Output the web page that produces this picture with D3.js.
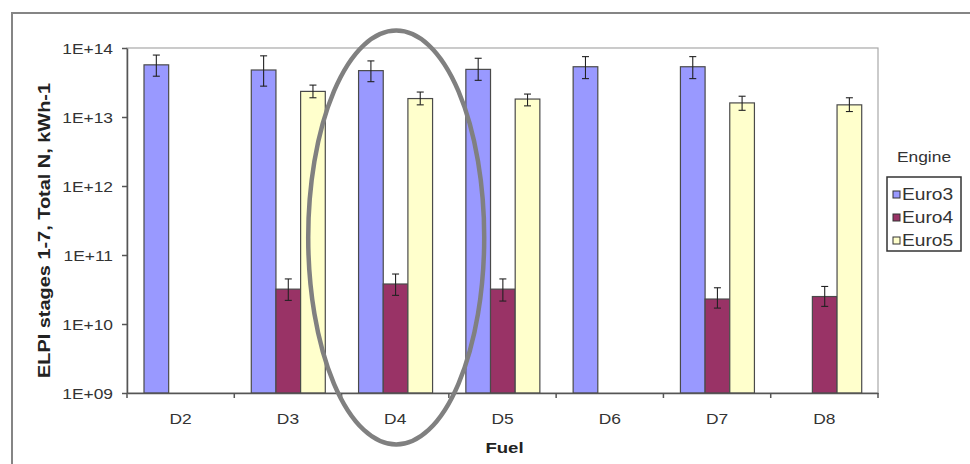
<!DOCTYPE html>
<html>
<head>
<meta charset="utf-8">
<script src="https://cdn.jsdelivr.net/npm/d3@7"></script>
<style>
  html, body { margin: 0; padding: 0; background: #fff; }
  svg { display: block; font-family: "Liberation Sans", Arial, sans-serif; }
</style>
</head>
<body>
<svg id="chart" width="970" height="464"></svg>
<script>
// ---- data ----
const categories = ["D2", "D3", "D4", "D5", "D6", "D7", "D8"];
const seriesNames = ["Euro3", "Euro4", "Euro5"];
const euro3 = [5.7e13, 4.8e13, 4.7e13, 4.9e13, 5.35e13, 5.35e13, null];
const euro4 = [null, 3.2e10, 3.8e10, 3.2e10, null, 2.3e10, 2.5e10];
const euro5 = [null, 2.35e13, 1.85e13, 1.82e13, null, 1.6e13, 1.5e13];
const euro3Hi = [7.9e13, 7.7e13, 6.5e13, 7.1e13, 7.5e13, 7.5e13, null];
const euro3Lo = [3.9e13, 2.8e13, 3.25e13, 3.4e13, 3.6e13, 3.6e13, null];
const euro4Hi = [null, 4.5e10, 5.3e10, 4.5e10, null, 3.35e10, 3.5e10];
const euro4Lo = [null, 2.2e10, 2.6e10, 2.15e10, null, 1.7e10, 1.8e10];
const euro5Hi = [null, 2.9e13, 2.3e13, 2.15e13, null, 2.0e13, 1.9e13];
const euro5Lo = [null, 1.9e13, 1.5e13, 1.45e13, null, 1.25e13, 1.2e13];
const yTickValues = [1e9, 1e10, 1e11, 1e12, 1e13, 1e14];
const yTickLabels = ["1E+09", "1E+10", "1E+11", "1E+12", "1E+13", "1E+14"];
const yTitle = "ELPI stages 1-7, Total N, kWh-1";
const xTitle = "Fuel";
const legendTitle = "Engine";
const highlighted = "D4";

// ---- styles ----
const colors = { Euro3: "#9999FF", Euro4: "#993366", Euro5: "#FFFFCC" };
const SX = 1.2; // horizontal text stretch

const values = { Euro3: euro3, Euro4: euro4, Euro5: euro5 };
const hi = { Euro3: euro3Hi, Euro4: euro4Hi, Euro5: euro5Hi };
const lo = { Euro3: euro3Lo, Euro4: euro4Lo, Euro5: euro5Lo };

const svg = d3.select("#chart");
const plot = { left: 127, right: 878, top: 48, bottom: 393 };

// outer chart border
svg.append("rect").attr("x", 12).attr("y", 13).attr("width", 980).attr("height", 480)
  .attr("fill", "#fff").attr("stroke", "#858585").attr("stroke-width", 2);

// plot area frame
svg.append("rect").attr("x", plot.left).attr("y", plot.top)
  .attr("width", plot.right - plot.left).attr("height", plot.bottom - plot.top)
  .attr("fill", "#fff").attr("stroke", "#a8a8a8").attr("stroke-width", 1.2);

const x = d3.scaleBand().domain(categories).range([plot.left, plot.right]).paddingInner(0).paddingOuter(0);
const x1 = d3.scaleBand().domain(seriesNames).range([17, 17 + 74]).padding(0);
const y = d3.scaleLog().domain([1e9, 1e14]).range([plot.bottom, plot.top]);

// bars
const barData = [];
seriesNames.forEach(s => categories.forEach((c, i) => {
  if (values[s][i] != null) barData.push({ s, c, v: values[s][i], h: hi[s][i], l: lo[s][i] });
}));

svg.append("g").selectAll("rect").data(barData).join("rect")
  .attr("x", d => x(d.c) + x1(d.s))
  .attr("y", d => y(d.v))
  .attr("width", x1.bandwidth())
  .attr("height", d => y(1e9) - y(d.v))
  .attr("fill", d => colors[d.s])
  .attr("stroke", "#4a4a4a")
  .attr("stroke-width", 1.2);

// error bars
const eg = svg.append("g").attr("stroke", "#222").attr("stroke-width", 1.1);
barData.forEach(d => {
  const cx = x(d.c) + x1(d.s) + x1.bandwidth() / 2;
  eg.append("line").attr("x1", cx).attr("x2", cx).attr("y1", y(d.h)).attr("y2", y(d.l));
  eg.append("line").attr("x1", cx - 3.5).attr("x2", cx + 3.5).attr("y1", y(d.h)).attr("y2", y(d.h));
  eg.append("line").attr("x1", cx - 3.5).attr("x2", cx + 3.5).attr("y1", y(d.l)).attr("y2", y(d.l));
});

// y axis
const yAxis = d3.axisLeft(y).tickValues(yTickValues)
  .tickFormat((d, i) => yTickLabels[i]).tickSize(5).tickSizeOuter(0);
const yg = svg.append("g").attr("transform", `translate(${plot.left},0)`).call(yAxis);
yg.select(".domain").attr("stroke", "#555").attr("stroke-width", 1.5);
yg.selectAll(".tick line").attr("stroke", "#555").attr("stroke-width", 1.5);
yg.selectAll(".tick text")
  .attr("x", -14 / SX).attr("dy", "0.36em")
  .attr("transform", `scale(${SX},1)`)
  .attr("fill", "#333").style("font-size", "14.5px");

// x axis
const xAxis = d3.axisBottom(x).tickSize(0).tickSizeOuter(0);
const xg = svg.append("g").attr("transform", `translate(0,${plot.bottom})`).call(xAxis);
xg.select(".domain").attr("stroke", "#555").attr("stroke-width", 1.5);
xg.selectAll(".tick text")
  .attr("y", 31).attr("dy", 0)
  .attr("transform", `scale(${SX},1)`)
  .attr("x", 0)
  .attr("fill", "#333").style("font-size", "14.5px");
// category boundary ticks
const bounds = categories.map(c => x(c)).concat([x.range()[1]]);
svg.append("g").selectAll("line").data(bounds).join("line")
  .attr("x1", d => d).attr("x2", d => d)
  .attr("y1", plot.bottom).attr("y2", plot.bottom + 5)
  .attr("stroke", "#555").attr("stroke-width", 1.5);

// axis titles
svg.append("text")
  .attr("transform", `translate(${(plot.left + plot.right) / 2 + 2},453) scale(${SX},1)`)
  .attr("text-anchor", "middle").attr("font-weight", "bold")
  .style("font-size", "15.5px").attr("fill", "#222").text(xTitle);

svg.append("text")
  .attr("transform", `translate(50,${(plot.top + plot.bottom) / 2 + 10}) rotate(-90)`)
  .attr("text-anchor", "middle").attr("font-weight", "bold")
  .style("font-size", "16px").attr("textLength", 295).attr("lengthAdjust", "spacingAndGlyphs")
  .attr("fill", "#222").text(yTitle);

// legend
svg.append("text")
  .attr("transform", `translate(924,162) scale(${SX},1)`)
  .attr("text-anchor", "middle").style("font-size", "14.5px").attr("fill", "#333")
  .text(legendTitle);
svg.append("rect").attr("x", 887).attr("y", 177).attr("width", 74).attr("height", 74)
  .attr("fill", "#fff").attr("stroke", "#333").attr("stroke-width", 1.5);
const lg = svg.append("g").selectAll("g").data(seriesNames).join("g")
  .attr("transform", (d, i) => `translate(893,${200 + i * 23})`);
lg.append("rect").attr("x", 0).attr("y", -9).attr("width", 7).attr("height", 7)
  .attr("fill", d => colors[d]).attr("stroke", "#333").attr("stroke-width", 1);
lg.append("text").attr("transform", `translate(9,0) scale(${SX},1)`)
  .style("font-size", "16px").attr("fill", "#333").text(d => d);

// highlight ellipse around D4
svg.append("ellipse")
  .attr("cx", x(highlighted) + x.bandwidth() / 2 + 1)
  .attr("cy", (plot.top + plot.bottom) / 2 + 17)
  .attr("rx", 88).attr("ry", 207)
  .attr("fill", "none").attr("stroke", "#808080").attr("stroke-width", 4.5);
</script>
</body>
</html>
